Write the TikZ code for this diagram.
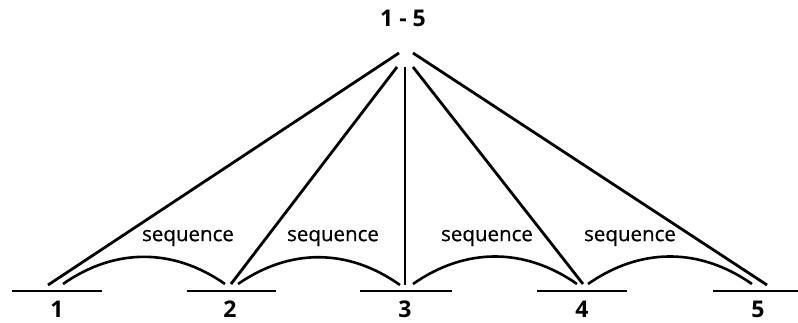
\documentclass[tikz,border=0pt]{standalone}
\usepackage{fontspec}
\setmainfont{Open Sans}
\newfontfamily\seqfont{Open Sans}[FakeBold=0.6]
\usetikzlibrary{positioning}
\tikzset{
  tie/.style    ={line width=2.8pt},
  seqarc/.style ={line width=2.6pt, bend left=35},
  bar/.style    ={line width=2pt},
  num/.style    ={font=\bfseries\fontsize{23}{23}\selectfont, inner sep=0pt},
  seq/.style    ={font=\seqfont\fontsize{20.5}{20.5}\selectfont, inner sep=0pt},
}
\begin{document}
\begin{tikzpicture}[x=1pt, y=-1pt]
  \useasboundingbox (0,0) rectangle (798,323);

  % whole span (top)
  \node[num] (all) at (403,18) {1 - 5};
  \coordinate (t1) at (399,53);
  \coordinate (t5) at (413,53);
  \coordinate (t2) at (397,67);
  \coordinate (t3) at (405,67);
  \coordinate (t4) at (413,67);

  % parts (bottom)
  \node[num] (n1) at (57,309)  {1};
  \node[num] (n2) at (230,309) {2};
  \node[num] (n3) at (405,309) {3};
  \node[num] (n4) at (582,309) {4};
  \node[num] (n5) at (758,309) {5};
  \coordinate (b1l) at (12,291);  \coordinate (b1r) at (102,291);
  \coordinate (b2l) at (187,291); \coordinate (b2r) at (276,291);
  \coordinate (b3l) at (360,291); \coordinate (b3r) at (452,291);
  \coordinate (b4l) at (537,291); \coordinate (b4r) at (627,291);
  \coordinate (b5l) at (713,291); \coordinate (b5r) at (798,291);
  \foreach \i in {1,...,5} \draw[bar] (b\i l) -- (b\i r);

  % feet of the links
  \coordinate (f1) at (48,285);
  \coordinate (f2) at (231,284);
  \coordinate (f3) at (405,285);
  \coordinate (f4) at (583,284);
  \coordinate (f5) at (767,285);
  \foreach \i in {1,...,5} \draw[tie] (t\i) -- (f\i);

  % sequence arcs between neighbours
  \coordinate (a1) at (63,284);  \coordinate (e2) at (225,284);
  \coordinate (a2) at (238,284); \coordinate (e3) at (400,285);
  \coordinate (a3) at (413,284); \coordinate (e4) at (577,284);
  \coordinate (a4) at (588,284); \coordinate (e5) at (752,284);
  \draw[seqarc] (a1) to (e2);
  \draw[seqarc] (a2) to (e3);
  \draw[seqarc] (a3) to (e4);
  \draw[seqarc] (a4) to (e5);
  \node[seq] (s1) at (188,238) {sequence};
  \node[seq] (s2) at (333,238) {sequence};
  \node[seq] (s3) at (487,238) {sequence};
  \node[seq] (s4) at (630,238) {sequence};
\end{tikzpicture}
\end{document}
